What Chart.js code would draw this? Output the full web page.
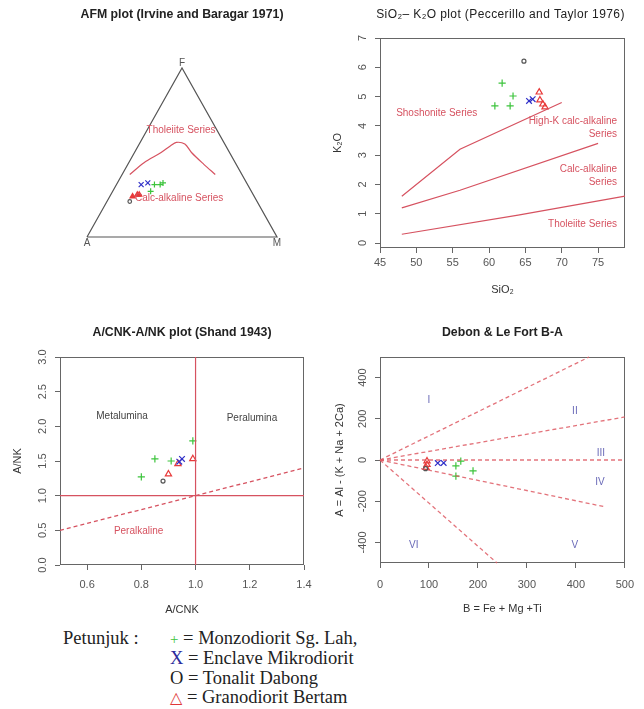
<!DOCTYPE html>
<html>
<head>
<meta charset="utf-8">
<script src="https://cdn.jsdelivr.net/npm/chart.js@4.4.0/dist/chart.umd.min.js"></script>
<style>
  body { margin: 0; background: #fff; width: 644px; height: 709px; position: relative; overflow: hidden; }
  canvas { position: absolute; }
  #legend { position: absolute; left: 63px; top: 629px; font-family: "Liberation Serif", "Times New Roman", serif; font-size: 18.5px; line-height: 19.3px; color: #222; }
</style>
</head>
<body>
<canvas id="afm" width="322" height="300" style="left:0;top:0"></canvas>
<canvas id="pk" width="322" height="300" style="left:322px;top:0"></canvas>
<canvas id="shand" width="322" height="320" style="left:0;top:300px"></canvas>
<canvas id="debon" width="322" height="320" style="left:322px;top:300px"></canvas>

<div id="legend">
  <div style="position:absolute;left:0;top:0;white-space:nowrap">Petunjuk :</div>
  <div style="position:absolute;left:107px;top:0;white-space:nowrap">
    <div><span style="color:#3cc43c;font-size:15px">+</span> = Monzodiorit Sg. Lah,</div>
    <div><span style="color:#2b2b9c">X</span> = Enclave Mikrodiorit</div>
    <div>O = Tonalit Dabong</div>
    <div><span style="color:#e03838;font-family:'DejaVu Sans';font-size:16px">△</span> = Granodiorit Bertam</div>
  </div>
</div>

<script>
// ---- AFM (A, F, M in %) ----
const afmTriangle = [[100, 0, 0], [0, 100, 0], [0, 0, 100], [100, 0, 0]];
const afmTholeiiteLine = [[59, 37, 4], [48, 44, 8], [36, 50, 14], [29, 54, 17], [25, 56, 19], [21, 55, 24], [20, 50, 30], [17, 43, 40], [14, 37, 49]];
const afmMonzodiorit = [[53, 27, 20], [49, 31, 20], [46, 31, 23], [44, 32, 24]];
const afmEnclave = [[56, 31, 13], [52, 32, 16]];
const afmTonalit = [[67, 21, 12]];
const afmGranodiorit = [[64, 24, 12], [61, 25, 14], [60, 25, 15]];

// ---- SiO2 - K2O ----
const pkXTicks = [45, 50, 55, 60, 65, 70, 75];
const pkYTicks = [0, 1, 2, 3, 4, 5, 6, 7];
const pkLineShoshonite = [[48, 1.6], [56, 3.2], [70, 4.8]];
const pkLineHighK = [[48, 1.2], [56, 1.8], [75, 3.4]];
const pkLineCalc = [[48, 0.3], [64, 0.95], [78.7, 1.6]];
const pkMonzodiorit = [[61.8, 5.46], [63.3, 5.02], [60.8, 4.68], [62.9, 4.68]];
const pkEnclave = [[65.5, 4.85], [66.0, 4.91]];
const pkTonalit = [[64.8, 6.21]];
const pkGranodiorit = [[66.9, 5.15], [67.0, 4.88], [67.4, 4.74], [67.7, 4.64]];

// ---- A/CNK - A/NK ----
const shXTicks = [0.6, 0.8, 1.0, 1.2, 1.4];
const shYTicks = [0, 0.5, 1.0, 1.5, 2.0, 2.5, 3.0];
const shMonzodiorit = [[0.80, 1.27], [0.85, 1.53], [0.91, 1.50], [0.99, 1.79]];
const shEnclave = [[0.94, 1.49], [0.95, 1.53]];
const shTonalit = [[0.88, 1.21]];
const shGranodiorit = [[0.90, 1.31], [0.935, 1.46], [0.99, 1.53]];

// ---- Debon & Le Fort B-A ----
const dlXTicks = [0, 100, 200, 300, 400, 500];
const dlYTicks = [-400, -200, 0, 200, 400];
const dlBoundaryEnds = [[427, 500], [500, 209], [500, 0], [461, -228], [239, -500]];
const dlMonzodiorit = [[165, -5], [155, -29], [190, -53], [155, -78]];
const dlEnclave = [[118, -15], [130, -14]];
const dlTonalit = [[93, -42]];
const dlGranodiorit = [[96, -5], [96, -22], [94, -37]];

const FONT = '"Liberation Sans", Arial, sans-serif';
const RED = '#d65260';
const H = Math.sqrt(3) / 2;

const pts = arr => arr.map(([x, y]) => ({ x, y }));
const tern = arr => arr.map(([a, f, m]) => {
  const s = a + f + m;
  return { x: (m + f / 2) / s, y: f / s * H };
});

const styles = {
  monzo: { pointStyle: 'cross', r: 3.6, color: '#3cc43c' },
  enclave: { pointStyle: 'crossRot', r: 4, color: '#3030c8' },
  tonalit: { pointStyle: 'circle', r: 2, color: '#555' },
  grano: { pointStyle: 'triangle', r: 3.6, color: '#e83a3a' }
};

function marks(data, s, r, fill) {
  return {
    data, showLine: false, pointStyle: s.pointStyle, pointRadius: r || s.r,
    borderColor: s.color, backgroundColor: fill ? s.color : 'rgba(0,0,0,0)', borderWidth: 1.2
  };
}

function line(data, color, width, dash, tension) {
  return {
    data, showLine: true, pointRadius: 0, borderColor: color, borderWidth: width || 1.2,
    borderDash: dash || [], tension: tension || 0, fill: false
  };
}

function txt(c, text, x, y, font, color, rot, align, spacing) {
  c.save();
  c.font = font;
  c.fillStyle = color;
  c.textAlign = align || 'center';
  c.textBaseline = 'middle';
  if (spacing) c.letterSpacing = spacing;
  c.translate(x, y);
  if (rot) c.rotate(rot);
  c.fillText(text, 0, 0);
  c.restore();
}

// draws the R-like frame, titles, rotated y labels and notes
function frame(o) {
  return {
    id: 'frame',
    beforeDatasetsDraw(chart) {
      if (!o.box) return;
      const a = chart.chartArea, c = chart.ctx;
      c.save();
      c.strokeStyle = '#666';
      c.lineWidth = 1;
      c.strokeRect(Math.round(a.left) + 0.5, Math.round(a.top) + 0.5, Math.round(a.right - a.left) - 1, Math.round(a.bottom - a.top) - 1);
      c.restore();
    },
    afterDraw(chart) {
      const a = chart.chartArea, c = chart.ctx, sx = chart.scales.x, sy = chart.scales.y;
      const cx = (a.left + a.right) / 2, cy = (a.top + a.bottom) / 2;
      txt(c, o.title, cx + (o.titleDx || 0), o.titleY, o.titleFont, '#222', 0, 'center', o.titleSpacing);
      if (o.xTitle) txt(c, o.xTitle, cx, o.xTitleY, '11px ' + FONT, '#333');
      if (o.yTitle) txt(c, o.yTitle, o.yTitleX, cy, '11px ' + FONT, '#333', -Math.PI / 2);
      if (o.yFmt) sy.ticks.forEach(t => txt(c, o.yFmt(t.value), o.yLabelX, sy.getPixelForValue(t.value), '11px ' + FONT, '#555', -Math.PI / 2));
      (o.notes || []).forEach(n => txt(c, n.text, sx.getPixelForValue(n.x) + (n.dx || 0), sy.getPixelForValue(n.y) + (n.dy || 0), n.font, n.color, 0, n.align));
    }
  };
}

function axis(ticks, min, max, fmt, size, pad, horizontal) {
  return {
    type: 'linear', min, max,
    afterBuildTicks: s => { s.ticks = ticks.map(v => ({ value: v })); },
    afterFit: s => { if (horizontal) s.height = size; else s.width = size; },
    grid: { drawOnChartArea: false, drawTicks: true, tickLength: 5, color: '#666' },
    border: { display: false },
    ticks: { display: horizontal, autoSkip: false, maxRotation: 0, padding: pad, color: '#555', font: { family: FONT, size: 11 }, callback: v => fmt(v) }
  };
}

function make(id, datasets, scales, padding, o) {
  return new Chart(document.getElementById(id), {
    type: 'scatter',
    data: { datasets },
    options: {
      responsive: false, animation: false, clip: false,
      layout: { padding },
      scales,
      plugins: { legend: { display: false }, tooltip: { enabled: false }, title: { display: false } }
    },
    plugins: [frame(o)]
  });
}

const noteFont = '10px ' + FONT;
const boldTitle = 'bold 12.3px ' + FONT;

// AFM
make('afm', [
  line(tern(afmTriangle), '#555', 1.2),
  line(tern(afmTholeiiteLine), RED, 1.2, null, 0.3),
  marks(tern(afmMonzodiorit), styles.monzo, 3),
  marks(tern(afmEnclave), styles.enclave, 3.5),
  marks(tern(afmTonalit), styles.tonalit, 1.8),
  marks(tern(afmGranodiorit), styles.grano, 3, true)
], {
  x: { type: 'linear', display: false, min: 0, max: 1 },
  y: { type: 'linear', display: false, min: 0, max: H }
}, { left: 87, right: 45, top: 68, bottom: 63 }, {
  title: 'AFM plot (Irvine and Baragar 1971)', titleY: 15, titleFont: boldTitle,
  notes: [
    { text: 'Tholeiite Series', ...tern([[19, 63, 18]])[0], font: noteFont, color: RED },
    { text: 'Calc-alkaline Series', ...tern([[40, 23, 37]])[0], font: noteFont, color: RED },
    { text: 'A', x: 0, y: 0, dy: 6, font: '10px ' + FONT, color: '#555' },
    { text: 'F', x: 0.5, y: H, dy: -5, font: '10px ' + FONT, color: '#555' },
    { text: 'M', x: 1, y: 0, dy: 6, font: '10px ' + FONT, color: '#555' }
  ]
});

// SiO2 - K2O
make('pk', [
  line(pts(pkLineShoshonite), RED),
  line(pts(pkLineHighK), RED),
  line(pts(pkLineCalc), RED),
  marks(pts(pkMonzodiorit), styles.monzo),
  marks(pts(pkEnclave), styles.enclave),
  marks(pts(pkTonalit), styles.tonalit),
  marks(pts(pkGranodiorit), styles.grano)
], {
  x: axis(pkXTicks, 45, 78.7, v => String(v), 52, 3, true),
  y: axis(pkYTicks, -0.17, 7, v => String(v), 58, 0, false)
}, { left: 0, right: 19, top: 38, bottom: 0 }, {
  box: true,
  title: 'SiO\u2082\u2013 K\u2082O plot (Peccerillo and Taylor 1976)', titleY: 15, titleDx: -2, titleFont: '12px ' + FONT, titleSpacing: '0.4px',
  xTitle: 'SiO\u2082', xTitleY: 290, yTitle: 'K\u2082O', yTitleX: 16, yLabelX: 41, yFmt: v => String(v),
  notes: [
    { text: 'Shoshonite Series', x: 52.8, y: 4.44, font: noteFont, color: RED },
    { text: 'High-K calc-alkaline', x: 77.6, y: 4.16, font: noteFont, color: RED, align: 'right' },
    { text: 'Series', x: 77.6, y: 3.72, font: noteFont, color: RED, align: 'right' },
    { text: 'Calc-alkaline', x: 77.6, y: 2.53, font: noteFont, color: RED, align: 'right' },
    { text: 'Series', x: 77.6, y: 2.08, font: noteFont, color: RED, align: 'right' },
    { text: 'Tholeiite Series', x: 77.6, y: 0.65, font: noteFont, color: RED, align: 'right' }
  ]
});

// A/CNK - A/NK
make('shand', [
  line(pts([[1, 0], [1, 3]]), RED),
  line(pts([[0.5, 1], [1.4, 1]]), RED),
  line(pts([[0.5, 0.5], [1.4, 1.4]]), RED, 1.3, [4, 3]),
  marks(pts(shMonzodiorit), styles.monzo),
  marks(pts(shEnclave), styles.enclave),
  marks(pts(shTonalit), styles.tonalit),
  marks(pts(shGranodiorit), styles.grano)
], {
  x: axis(shXTicks, 0.5, 1.4, v => v.toFixed(1), 55, 8, true),
  y: axis(shYTicks, 0, 3, v => v.toFixed(1), 60, 0, false)
}, { left: 0, right: 18, top: 57, bottom: 0 }, {
  box: true,
  title: 'A/CNK-A/NK plot (Shand 1943)', titleY: 33, titleFont: boldTitle,
  xTitle: 'A/CNK', xTitleY: 310, yTitle: 'A/NK', yTitleX: 18, yLabelX: 43, yFmt: v => v.toFixed(1),
  notes: [
    { text: 'Metalumina', x: 0.729, y: 2.15, font: noteFont, color: '#444' },
    { text: 'Peralumina', x: 1.208, y: 2.12, font: noteFont, color: '#444' },
    { text: 'Peralkaline', x: 0.79, y: 0.49, font: noteFont, color: RED }
  ]
});

// Debon & Le Fort B-A
const roman = '#6a6ab8';
make('debon', [
  ...dlBoundaryEnds.map(e => line(pts([[0, 0], e]), 'rgba(222,90,100,0.85)', 1.3, [4, 3])),
  marks(pts(dlMonzodiorit), styles.monzo),
  marks(pts(dlEnclave), styles.enclave),
  marks(pts(dlTonalit), styles.tonalit),
  marks(pts(dlGranodiorit), styles.grano)
], {
  x: axis(dlXTicks, 0, 500, v => String(v), 57, 10, true),
  y: axis(dlYTicks, -500, 500, v => String(v), 58, 0, false)
}, { left: 0, right: 18, top: 57, bottom: 0 }, {
  box: true,
  title: 'Debon & Le Fort B-A', titleY: 33, titleFont: boldTitle,
  xTitle: 'B = Fe + Mg +Ti', xTitleY: 309, yTitle: 'A = Al - (K + Na + 2Ca)', yTitleX: 18, yLabelX: 41, yFmt: v => String(v),
  notes: [
    { text: 'I', x: 100, y: 290, font: noteFont, color: roman },
    { text: 'II', x: 398, y: 235, font: noteFont, color: roman },
    { text: 'III', x: 451, y: 35, font: noteFont, color: roman },
    { text: 'IV', x: 449, y: -110, font: noteFont, color: roman },
    { text: 'V', x: 398, y: -413, font: noteFont, color: roman },
    { text: 'VI', x: 69, y: -413, font: noteFont, color: roman }
  ]
});
</script>
</body>
</html>
